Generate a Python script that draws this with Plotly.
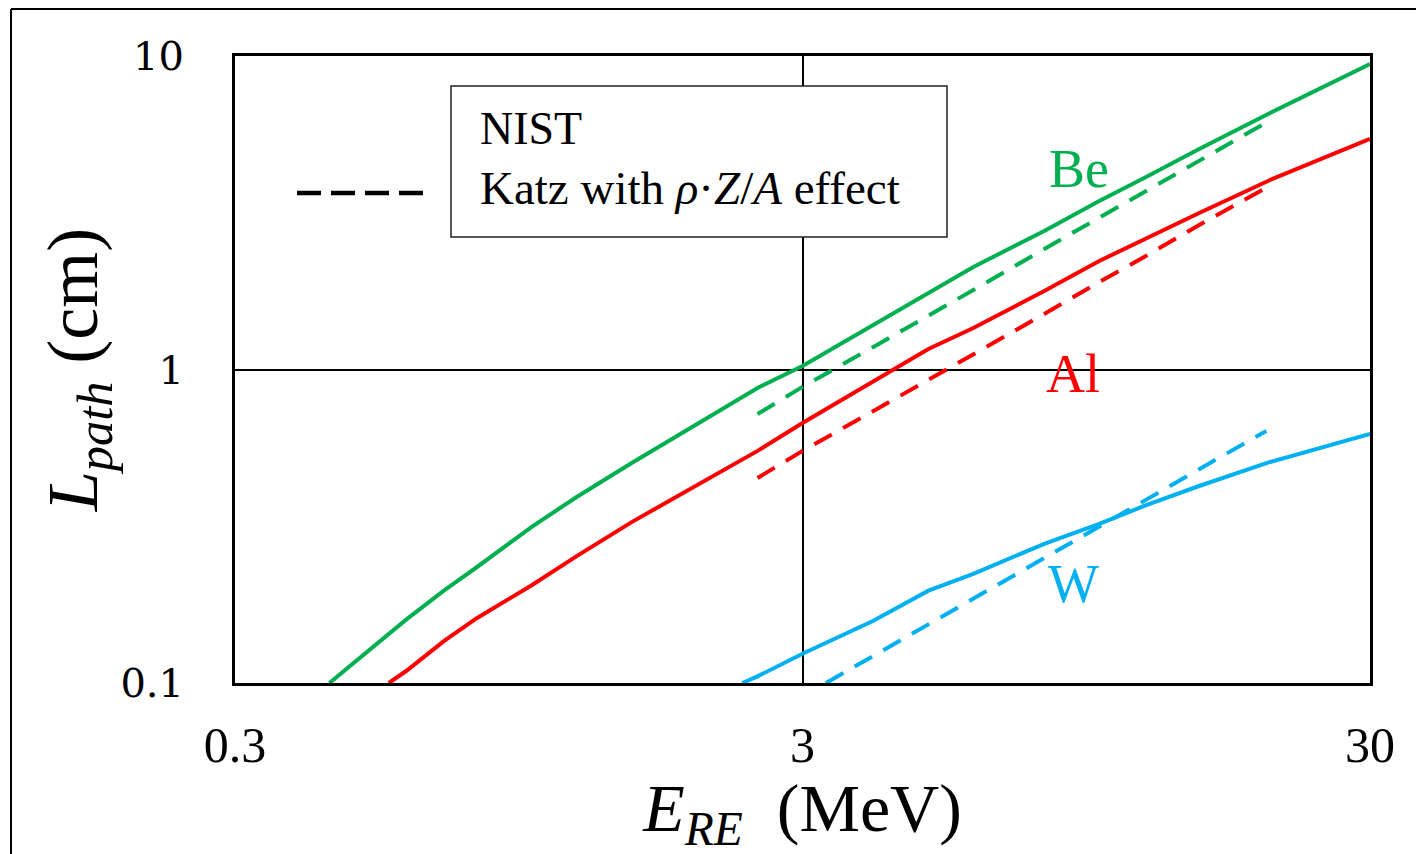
import math
import plotly.graph_objects as go

# ---- data (E in MeV, L_path in cm) ----
be_E = [0.44, 0.5, 0.6, 0.7, 0.8, 1.0, 1.2, 1.5, 2.0, 2.5, 3, 4, 5, 6, 8, 10, 12, 15, 20, 25, 30]
be_L = [0.100, 0.121, 0.159, 0.197, 0.234, 0.315, 0.392, 0.503, 0.685, 0.873, 1.026, 1.387,
        1.767, 2.123, 2.766, 3.447, 4.082, 5.05, 6.58, 8.02, 9.43]

al_E = [0.56, 0.6, 0.7, 0.8, 1.0, 1.2, 1.5, 2.0, 2.5, 3, 4, 5, 6, 8, 10, 12, 15, 20, 25, 30]
al_L = [0.100, 0.109, 0.136, 0.161, 0.205, 0.254, 0.326, 0.438, 0.550, 0.675, 0.919, 1.163,
        1.356, 1.780, 2.219, 2.609, 3.157, 4.023, 4.76, 5.44]

w_E = [2.35, 2.5, 3, 4, 5, 6, 8, 10, 12, 15, 20, 25, 30]
w_L = [0.100, 0.105, 0.124, 0.158, 0.197, 0.223, 0.278, 0.322, 0.367, 0.425, 0.507, 0.566, 0.623]

katz_E = [2.5, 3, 4, 5, 6, 8, 10, 12, 15, 19.5]
be_katz_L = [0.721, 0.880, 1.180, 1.481, 1.793, 2.423, 3.043, 3.683, 4.625, 6.07]
al_katz_L = [0.451, 0.550, 0.737, 0.926, 1.120, 1.503, 1.902, 2.285, 2.891, 3.765]

w_katz_E = [3.3, 4, 5, 6, 8, 10, 12, 15, 19.7]
w_katz_L = [0.100, 0.122, 0.153, 0.185, 0.250, 0.315, 0.381, 0.481, 0.637]

x_ticks = [0.3, 3, 30]
x_tick_text = ["0.3", "3", "30"]
y_ticks = [0.1, 1, 10]
y_tick_text = ["0.1", "1", "10"]

materials = ["Be", "Al", "W"]
label_pos = {"Be": (9.2, 4.36), "Al": (9.0, 0.967), "W": (9.0, 0.207)}

GREEN = "#00B050"
RED = "#FF0000"
BLUE = "#00B0F0"
SERIF = "Liberation Serif, Times New Roman, serif"

# page body adds a small offset; figure is sized so that it fills the window
OFF = 7
FIG_W, FIG_H = 1424 - OFF, 854 - OFF
L_PX, R_PX, T_PX, B_PX = 234, 1369, 55, 682   # plot area in window pixels
W_PLOT = R_PX - L_PX
H_PLOT = B_PX - T_PX


def px(xp):
    return (xp - L_PX) / W_PLOT


def py(yp):
    return (B_PX - yp) / H_PLOT


fig = go.Figure()

solid = [(be_E, be_L, GREEN, "Be"), (al_E, al_L, RED, "Al"), (w_E, w_L, BLUE, "W")]
dashed = [(katz_E, be_katz_L, GREEN, "Be"), (katz_E, al_katz_L, RED, "Al"),
          (w_katz_E, w_katz_L, BLUE, "W")]

for x, y, c, n in solid:
    fig.add_trace(go.Scatter(x=x, y=y, mode="lines", name=n + " NIST",
                             line=dict(color=c, width=4), showlegend=False))
for x, y, c, n in dashed:
    fig.add_trace(go.Scatter(x=x, y=y, mode="lines", name=n + " Katz",
                             line=dict(color=c, width=4, dash="20px,13px"), showlegend=False))

colors = {"Be": GREEN, "Al": RED, "W": BLUE}
for m in materials:
    ex, ly = label_pos[m]
    fig.add_annotation(x=math.log10(ex), y=math.log10(ly), xref="x", yref="y", text=m,
                       showarrow=False, font=dict(family=SERIF, size=54, color=colors[m]))

# legend box (drawn)
fig.add_shape(type="rect", xref="paper", yref="paper", x0=px(450), x1=px(946), y0=py(236), y1=py(85),
              line=dict(color="#222222", width=1.5), fillcolor="white", layer="above")
fig.add_shape(type="line", xref="paper", yref="paper", x0=px(296), x1=px(424), y0=py(192), y1=py(192),
              line=dict(color="black", width=4.5, dash="24px,10px"), layer="above")
fig.add_annotation(xref="paper", yref="paper", x=px(477), y=py(128), xanchor="left", yanchor="middle",
                   text="NIST", showarrow=False, font=dict(family=SERIF, size=46, color="black"))
fig.add_annotation(xref="paper", yref="paper", x=px(477), y=py(187), xanchor="left", yanchor="middle",
                   text="Katz with <i>ρ</i>·<i>Z</i>/<i>A</i> effect", showarrow=False,
                   font=dict(family=SERIF, size=47, color="black"))

# outer frame of the picture (left and top edges only are visible in the original)
fig.add_shape(type="line", xref="paper", yref="paper", x0=px(10), x1=px(10), y0=py(900), y1=py(OFF + 1),
              line=dict(color="black", width=2), layer="above")
fig.add_shape(type="line", xref="paper", yref="paper", x0=px(10), x1=px(1500), y0=py(OFF + 1),
              y1=py(OFF + 1), line=dict(color="black", width=2), layer="above")

fig.update_xaxes(type="log", range=[math.log10(0.3), math.log10(30)],
                 tickvals=x_ticks, ticktext=x_tick_text, ticks="", ticklabelstandoff=16,
                 tickfont=dict(family=SERIF, size=50, color="black"),
                 showgrid=True, gridcolor="black", gridwidth=1.5,
                 showline=True, mirror=True, linecolor="black", linewidth=3, zeroline=False,
                 title=dict(text="<i>E</i><sub><i>RE</i></sub>  (MeV)", standoff=14,
                            font=dict(family=SERIF, size=68, color="black")))
fig.update_yaxes(type="log", range=[-1, 1],
                 tickvals=y_ticks, ticktext=y_tick_text, ticks="", ticklabelstandoff=40,
                 tickfont=dict(family="DejaVu Serif, serif", size=40, color="black"),
                 showgrid=True, gridcolor="black", gridwidth=1.5,
                 showline=True, mirror=True, linecolor="black", linewidth=3, zeroline=False,
                 title=dict(text="<i>L</i><sub><i>path</i></sub> (cm)", standoff=0,
                            font=dict(family=SERIF, size=72, color="black")))

fig.update_layout(width=FIG_W, height=FIG_H,
                  margin=dict(l=L_PX - OFF, r=FIG_W - (R_PX - OFF), t=T_PX - OFF,
                              b=FIG_H - (B_PX - OFF), autoexpand=False),
                  plot_bgcolor="white", paper_bgcolor="white", showlegend=False)

fig.write_html("out.html")
